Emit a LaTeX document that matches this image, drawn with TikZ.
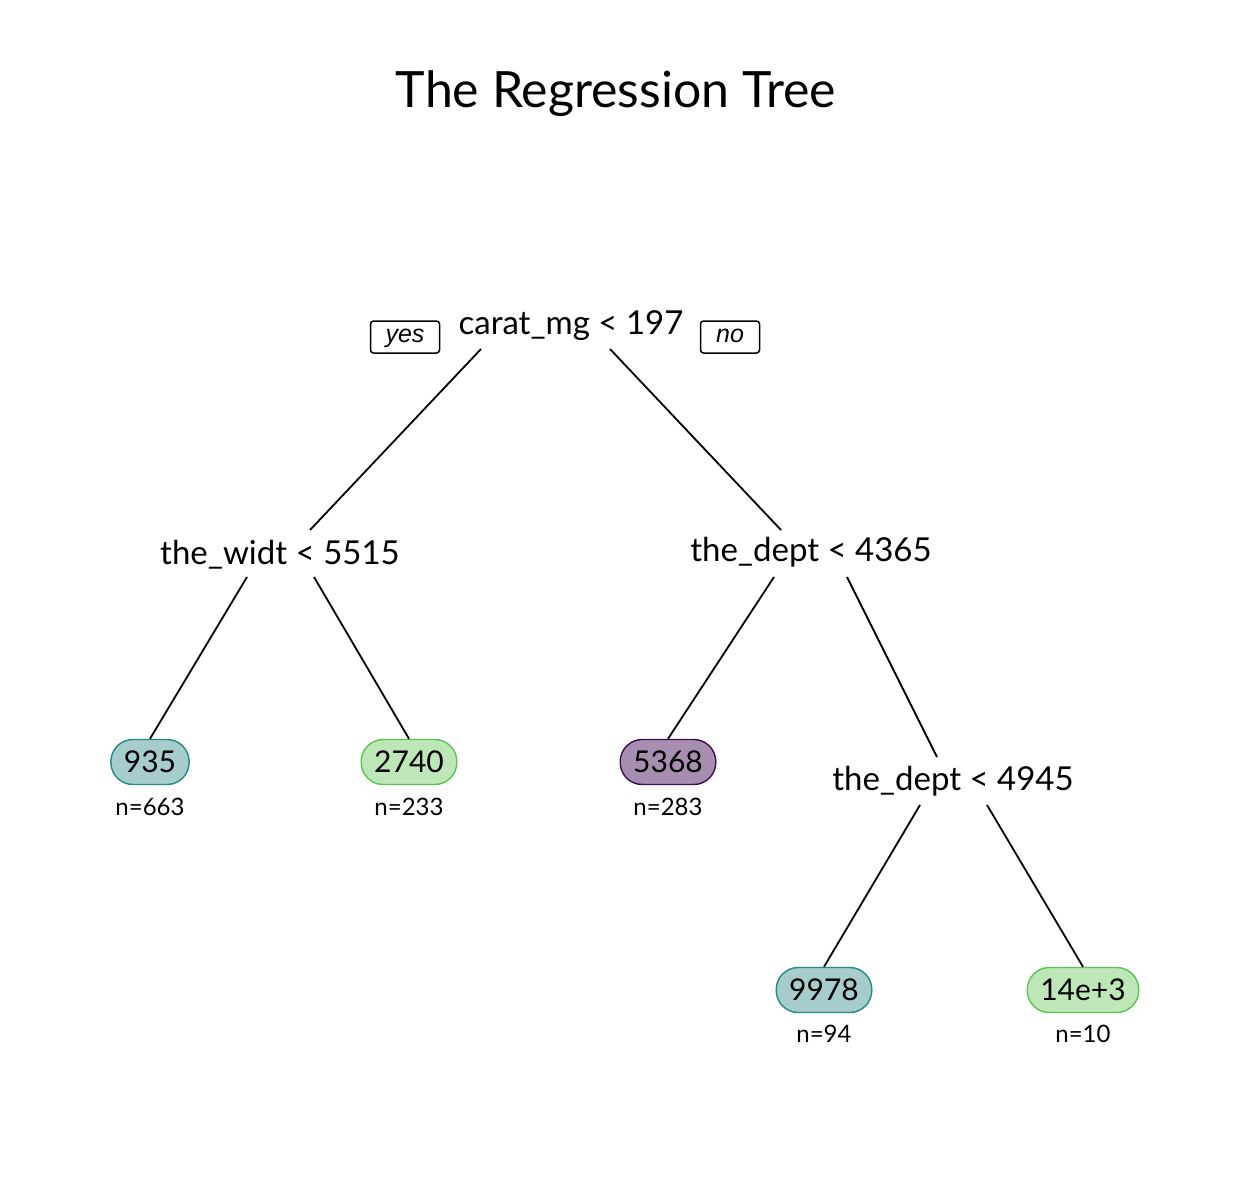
\documentclass[tikz,border=0pt]{standalone}
\usepackage{fontspec}
\setmainfont{Lato}
\newfontfamily\yesnofont{Liberation Sans}
\definecolor{tealfill}{HTML}{A6CDCB}
\definecolor{tealline}{HTML}{1F8A86}
\definecolor{greenfill}{HTML}{BEE7B8}
\definecolor{greenline}{HTML}{5CC453}
\definecolor{purpfill}{HTML}{A78EB0}
\definecolor{purpline}{HTML}{3F0E50}
\begin{document}
\begin{tikzpicture}[x=1pt,y=-1pt,
  splitlab/.style={inner sep=0pt,anchor=center,font=\fontsize{33}{38}\selectfont},
  leafbox/.style={rounded corners=22pt,minimum height=45pt,inner xsep=13pt,inner ysep=0pt,line width=1.4pt,anchor=center,font=\fontsize{30}{36}\selectfont},
  teal leaf/.style={leafbox,draw=tealline,fill=tealfill},
  green leaf/.style={leafbox,draw=greenline,fill=greenfill},
  purple leaf/.style={leafbox,draw=purpline,fill=purpfill},
  countlab/.style={inner sep=0pt,anchor=center,font=\fontsize{24}{28}\selectfont},
  yesnobox/.style={draw,line width=1.5pt,rounded corners=3pt,minimum height=32pt,inner xsep=9pt,inner ysep=0pt,anchor=center,font=\yesnofont\itshape\fontsize{25}{29}\selectfont},
  edge/.style={line width=1.8pt}]
\useasboundingbox (0,0) rectangle (1242,1176);
\node[inner sep=0pt,anchor=center,font=\fontsize{50}{56}\selectfont] (title) at (616,94) {The Regression Tree};

\node[splitlab] (root) at (571,326) {carat\_mg < 197};
\node[yesnobox,minimum width=69pt] (yes) at (405,337) {\raisebox{-5pt}[0pt][0pt]{yes}};
\node[yesnobox,minimum width=59pt] (no) at (730,337) {\raisebox{-5pt}[0pt][0pt]{no}};

\node[splitlab] (widt) at (280,555) {the\_widt < 5515};
\node[splitlab] (dept1) at (811,552) {the\_dept < 4365};
\node[splitlab] (dept2) at (953,781) {the\_dept < 4945};

\node[teal leaf] (l1) at (150,762) {935};
\node[countlab] (n1) at (150,807) {n=663};
\node[green leaf] (l2) at (409,762) {2740};
\node[countlab] (n2) at (409,807) {n=233};
\node[purple leaf] (l3) at (668,762) {5368};
\node[countlab] (n3) at (668,807) {n=283};
\node[teal leaf] (l4) at (824,990) {9978};
\node[countlab] (n4) at (824,1034) {n=94};
\node[green leaf] (l5) at (1083,990) {14e+3};
\node[countlab] (n5) at (1083,1034) {n=10};

\draw[edge] ([xshift=-90pt,yshift=-23pt]root.center) -- ([xshift=30pt,yshift=25pt]widt.center);
\draw[edge] ([xshift=39pt,yshift=-23pt]root.center) -- ([xshift=-30pt,yshift=22pt]dept1.center);
\draw[edge] ([xshift=-33pt,yshift=-22pt]widt.center) -- (l1.north);
\draw[edge] ([xshift=34pt,yshift=-22pt]widt.center) -- (l2.north);
\draw[edge] ([xshift=-37pt,yshift=-25pt]dept1.center) -- (l3.north);
\draw[edge] ([xshift=36pt,yshift=-25pt]dept1.center) -- ([xshift=-16pt,yshift=24pt]dept2.center);
\draw[edge] ([xshift=-33pt,yshift=-24pt]dept2.center) -- (l4.north);
\draw[edge] ([xshift=34pt,yshift=-24pt]dept2.center) -- (l5.north);
\end{tikzpicture}
\end{document}
